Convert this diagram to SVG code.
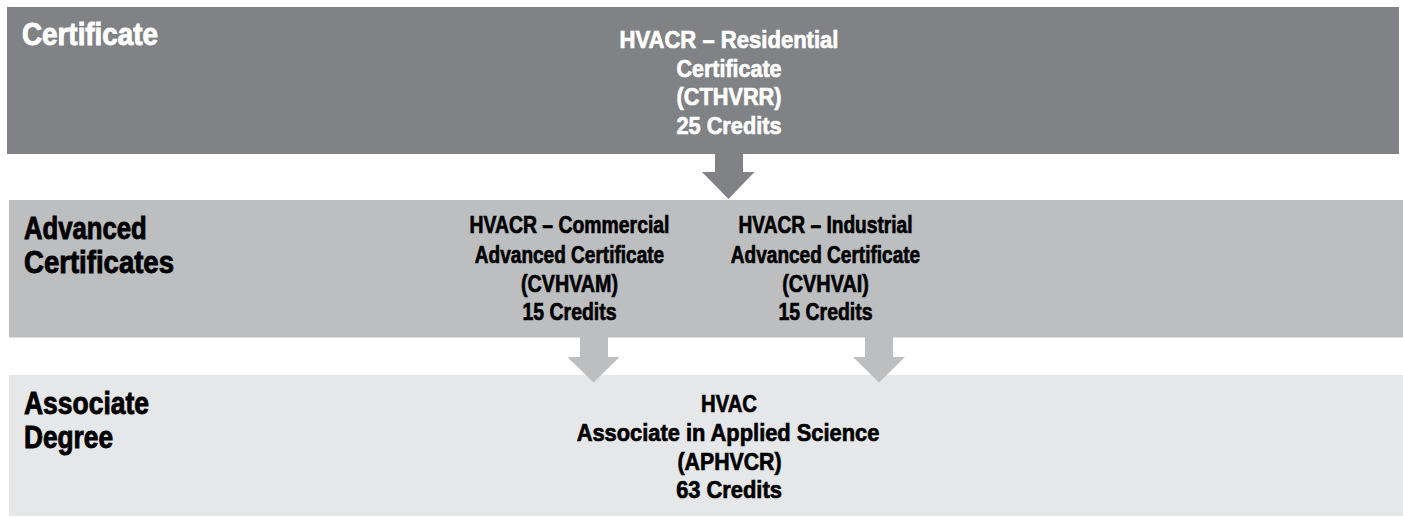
<svg xmlns="http://www.w3.org/2000/svg" width="1403" height="517" viewBox="0 0 1403 517">
<style>
text{font-family:"Liberation Sans Narrow","Liberation Sans",Arial,sans-serif;font-weight:bold}
.lbl{font-size:31px;stroke-width:0.9px}
.ctr{font-size:24.5px;text-anchor:middle;stroke-width:0.7px}
.w{fill:#ffffff;stroke:#ffffff}
.k{fill:#000000;stroke:#000000}
</style>
<rect width="1403" height="517" fill="#ffffff"/>
<g id="band-certificate">
<rect x="7" y="7" width="1392" height="147" fill="#808285"/>
<text class="lbl w" x="22" y="45" textLength="136" lengthAdjust="spacingAndGlyphs">Certificate</text>
</g>
<g id="node-cthvrr">
<text class="ctr w" x="729" y="48.3" textLength="219" lengthAdjust="spacingAndGlyphs">HVACR – Residential</text>
<text class="ctr w" x="729" y="76.7" textLength="105" lengthAdjust="spacingAndGlyphs">Certificate</text>
<text class="ctr w" x="729" y="105" textLength="105" lengthAdjust="spacingAndGlyphs">(CTHVRR)</text>
<text class="ctr w" x="729" y="134" textLength="105" lengthAdjust="spacingAndGlyphs">25 Credits</text>
</g>
<g id="band-advanced">
<rect x="9" y="200" width="1394" height="137.5" fill="#bcbec0"/>
<text class="lbl k" x="24" y="239.3" textLength="122.7" lengthAdjust="spacingAndGlyphs">Advanced</text>
<text class="lbl k" x="24" y="273.3" textLength="150" lengthAdjust="spacingAndGlyphs">Certificates</text>
</g>
<g id="node-cvhvam">
<text class="ctr k" x="569.5" y="232.7" textLength="200" lengthAdjust="spacingAndGlyphs">HVACR – Commercial</text>
<text class="ctr k" x="569.5" y="262.5" textLength="189.3" lengthAdjust="spacingAndGlyphs">Advanced Certificate</text>
<text class="ctr k" x="569.5" y="291.5" textLength="97" lengthAdjust="spacingAndGlyphs">(CVHVAM)</text>
<text class="ctr k" x="569.5" y="320" textLength="94" lengthAdjust="spacingAndGlyphs">15 Credits</text>
</g>
<g id="node-cvhvai">
<text class="ctr k" x="825.5" y="232.7" textLength="174" lengthAdjust="spacingAndGlyphs">HVACR – Industrial</text>
<text class="ctr k" x="825.5" y="262.5" textLength="189.3" lengthAdjust="spacingAndGlyphs">Advanced Certificate</text>
<text class="ctr k" x="825.5" y="291.5" textLength="86.7" lengthAdjust="spacingAndGlyphs">(CVHVAI)</text>
<text class="ctr k" x="825.5" y="320" textLength="94" lengthAdjust="spacingAndGlyphs">15 Credits</text>
</g>
<g id="band-associate">
<rect x="9" y="375" width="1394" height="141" fill="#e6e7e8"/>
<text class="lbl k" x="24" y="414.3" textLength="125" lengthAdjust="spacingAndGlyphs">Associate</text>
<text class="lbl k" x="24" y="448.3" textLength="89" lengthAdjust="spacingAndGlyphs">Degree</text>
</g>
<g id="node-aphvcr">
<text class="ctr k" x="729" y="411.7" textLength="56" lengthAdjust="spacingAndGlyphs">HVAC</text>
<text class="ctr k" x="728" y="441" textLength="302.7" lengthAdjust="spacingAndGlyphs">Associate in Applied Science</text>
<text class="ctr k" x="729.5" y="470" textLength="104" lengthAdjust="spacingAndGlyphs">(APHVCR)</text>
<text class="ctr k" x="729" y="498.3" textLength="105.7" lengthAdjust="spacingAndGlyphs">63 Credits</text>
</g>
<g id="connectors">
<polygon points="715,153 743,153 743,172 754.5,172 728.5,199 702,172 715,172" fill="#808285"/>
<polygon points="580,337 608,337 608,357 619.5,357 593.5,382.5 567.5,357 580,357" fill="#bcbec0"/>
<polygon points="865,337 893,337 893,357 905,357 879,382.5 853,357 865,357" fill="#bcbec0"/>
</g>
</svg>
